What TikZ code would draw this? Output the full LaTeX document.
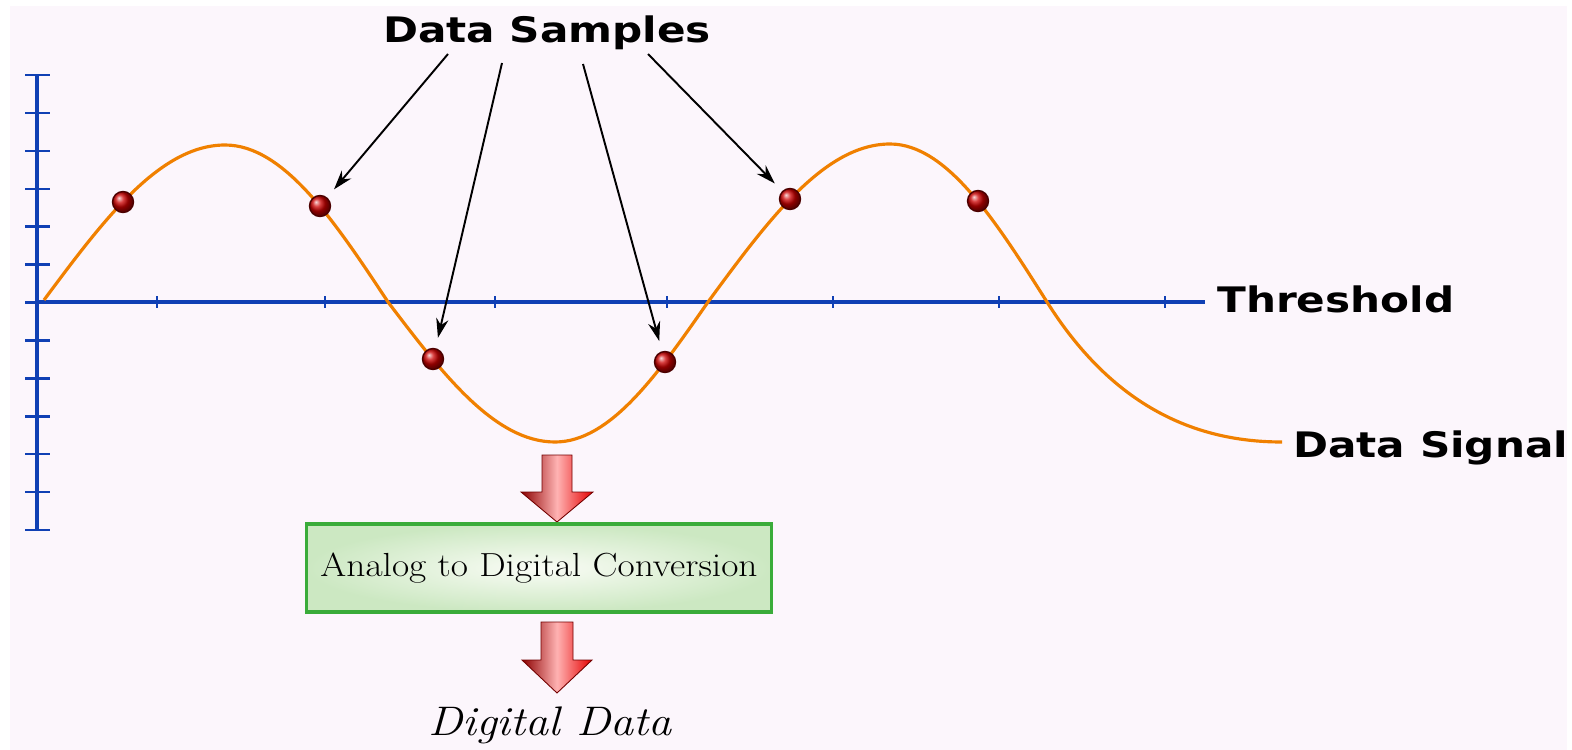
\documentclass[tikz,border=0pt]{standalone}
\usepackage{fontspec}
\usetikzlibrary{arrows.meta}
\newfontfamily\lblfont{DejaVu Sans}[FakeStretch=1.2]
\newfontfamily\boxfont{Latin Modern Roman}[FakeStretch=1.12]
\definecolor{pagepink}{RGB}{252,246,252}
\definecolor{axisblue}{RGB}{16,64,180}
\definecolor{signalorange}{RGB}{240,128,0}
\definecolor{boxgreen}{RGB}{58,172,58}
\definecolor{boxpale}{RGB}{250,252,246}
\definecolor{boxedge}{RGB}{204,232,194}
\tikzset{
  lbl/.style={font=\lblfont\bfseries\fontsize{20}{24}\selectfont, inner sep=0pt},
  pointer/.style={line width=1.1pt, -{Stealth[length=11pt,width=7pt]}, shorten >=6pt},
  sample/.style={circle, minimum size=0.42cm, inner sep=0pt, ball color=red!80!black, draw=red!30!black, line width=0.8pt},
  blockarrow/.style={left color=red!55!black, right color=red!90!black, middle color=red!30, draw=red!45!black, line width=0.5pt},
  convbox/.style={draw=boxgreen, line width=2.2pt, inner color=boxpale, outer color=boxedge, minimum width=9.3cm, minimum height=1.76cm, font=\boxfont\fontsize{19}{22}\selectfont}
}
\begin{document}
\begin{tikzpicture}[x=0.02cm, y=-0.02cm]
            \useasboundingbox (0,0) rectangle (1572,750);
            \fill[white] (0,0) rectangle (1572,750);
            \fill[pagepink] (10,6) rectangle (1567,750);
            \draw[axisblue, line width=1.8pt] (37,75) -- (37,530);
            \foreach \k in {0,...,12} \draw[axisblue, line width=1.4pt] (25,75+37.92*\k) -- (50,75+37.92*\k);
            \draw[axisblue, line width=2pt] (37,302) -- (1205,302);
            \foreach \x in {157,325,495,667,833,999,1165} \draw[axisblue, line width=1.2pt] (\x,296) -- (\x,308);
            \draw[signalorange, line width=1.8pt] (44,300) sin (225,145) cos (388,302) sin (555,442) cos (708,302) sin (890,144) cos (1047,302) .. controls (1110,402) and (1190,442) .. (1282,442);
            \node[sample] (s1) at (123,202) {};
            \node[sample] (s2) at (320,206) {};
            \node[sample] (s3) at (433,359) {};
            \node[sample] (s4) at (665,362) {};
            \node[sample] (s5) at (790,199) {};
            \node[sample] (s6) at (978,201) {};
            \node[lbl, anchor=base] (samples) at (547,43) {Data Samples};
            \coordinate (p1) at (448,54);
            \coordinate (p2) at (502,63);
            \coordinate (p3) at (583,64);
            \coordinate (p4) at (648,54);
            \draw[pointer] (p1) -- (s2);
            \draw[pointer] (p2) -- (s3);
            \draw[pointer] (p3) -- (s4);
            \draw[pointer] (p4) -- (s5);
            \node[lbl, anchor=base west] (thr) at (1217,312) {Threshold};
            \node[lbl, anchor=base west] (sig) at (1293,457) {Data Signal};
            \draw[blockarrow] (542,455) -- (572,455) -- (572,492) -- (593,492) -- (557,522) -- (521,492) -- (542,492) -- cycle;
            \node[convbox] (adc) at (539,568) {Analog to Digital Conversion};
            \draw[blockarrow] (541,622) -- (573,622) -- (573,660) -- (592,660) -- (557,693) -- (522,660) -- (541,660) -- cycle;
            \node[font=\boxfont\itshape\fontsize{23.5}{28}\selectfont, anchor=base, inner sep=0pt] (dig) at (550,735) {Digital Data};
        \end{tikzpicture}
\end{document}
